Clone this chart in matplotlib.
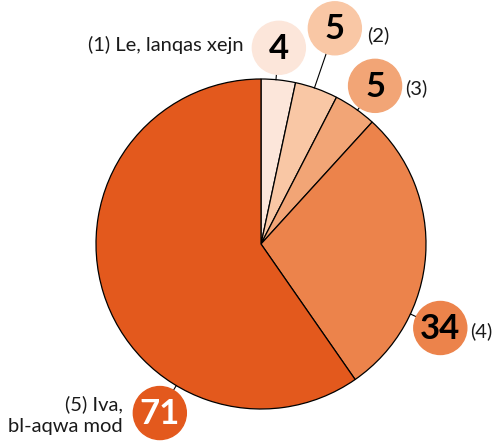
import numpy as np
import matplotlib.pyplot as plt
from matplotlib.patches import Circle

values = [4, 5, 5, 34, 71]
labels = ['(1) Le, lanqas xejn', '(2)', '(3)', '(4)', '(5) Iva,\nbl-aqwa mod']
colors = ['#fce6da', '#f9c7a5', '#f2a576', '#ec834b', '#e3591d']
num_colors = ['black', 'black', 'black', 'black', 'white']

# layout, in pixels (y measured upwards)
W, H = 493, 443
cx, cy = 261, H - 244
R = 165
lab_ang = [84.8, 71.1, 54.2, -25.1, -120.9]   # degrees
lab_dist = [197, 228, 195, 198, 197]
cr = 26.5
lab_dx = [-35, 32, 30, 30, -37]
lab_dy = [3, -7, -2, -3, -2]

fig = plt.figure(figsize=(4.93, 4.43), dpi=100)
ax = fig.add_axes([0, 0, 1, 1])
ax.pie(values, colors=colors, startangle=90, counterclock=False,
       center=(cx, cy), radius=R,
       wedgeprops=dict(edgecolor='black', linewidth=0.9))
ax.set_xlim(0, W)
ax.set_ylim(0, H)
ax.set_aspect('equal')
ax.axis('off')

txt_font = ['Lato', 'DejaVu Sans']

for i, v in enumerate(values):
    a = np.radians(lab_ang[i])
    ux, uy = np.cos(a), np.sin(a)
    px, py = cx + lab_dist[i] * ux, cy + lab_dist[i] * uy
    # leader line
    ax.plot([cx + R * ux, cx + (lab_dist[i] - cr) * ux],
            [cy + R * uy, cy + (lab_dist[i] - cr) * uy],
            color='black', lw=0.8, zorder=2)
    ax.add_patch(Circle((px, py), cr, color=colors[i], zorder=3))
    ax.text(px, py - 1, str(v), ha='center', va='center', fontsize=25,
            fontweight='bold', family=txt_font, color=num_colors[i], zorder=4)
    ha = 'right' if lab_dx[i] < 0 else 'left'
    ax.text(px + lab_dx[i], py + lab_dy[i], labels[i], ha=ha, va='center',
            fontsize=14.5, family=txt_font, color='#1a1a1a',
            multialignment='right', linespacing=1.3)

fig.savefig('out.png', dpi=100)
